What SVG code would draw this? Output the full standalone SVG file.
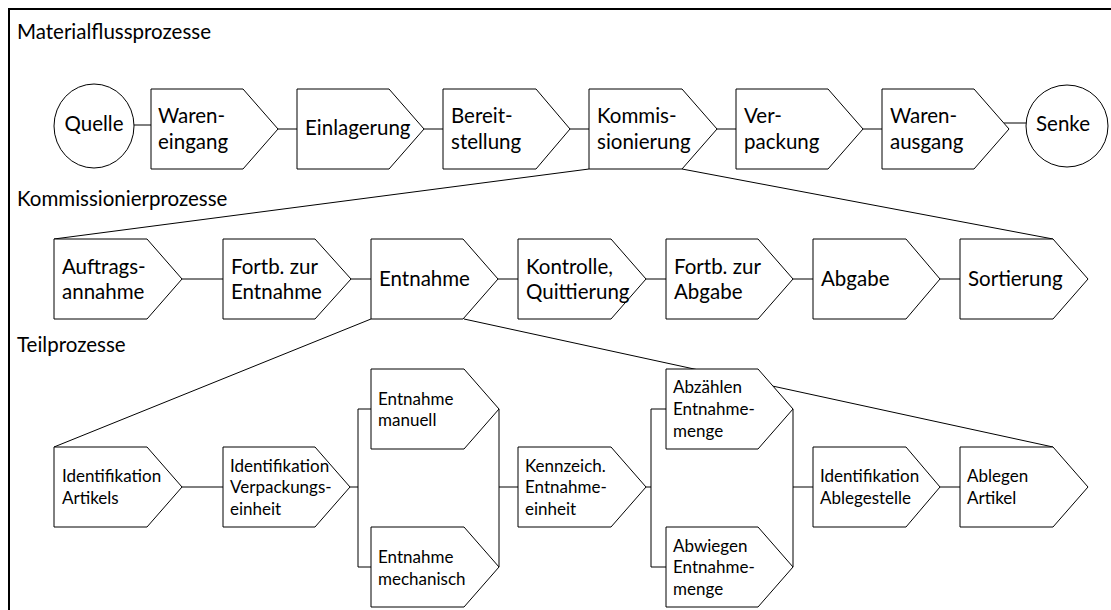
<svg xmlns="http://www.w3.org/2000/svg" width="1111" height="610" viewBox="0 0 1111 610">
  <style>
    .frame { fill: none; stroke: #000; stroke-width: 2; }
    .node { fill: #fff; stroke: #000; stroke-width: 1; }
    .conn { fill: none; stroke: #000; stroke-width: 1; }
    text { font-family: Lato, "Liberation Sans", sans-serif; fill: #000; }
    .lg { font-size: 20.5px; }
    .sm { font-size: 17px; }
    .mid { text-anchor: middle; }
  </style>

  <rect x="0" y="0" width="1111" height="610" fill="#fff"/>
  <rect class="frame" x="9" y="9" width="1120" height="620"/>

  <!-- section headings -->
  <g id="headings">
    <text class="lg" x="17" y="39">Materialflussprozesse</text>
    <text class="lg" x="17" y="206">Kommissionierprozesse</text>
    <text class="lg" x="17" y="352">Teilprozesse</text>
  </g>

  <!-- connectors (drawn first so boxes sit on top) -->
  <g id="connectors" class="conn">
    <!-- top row -->
    <line x1="134" y1="125" x2="151" y2="125"/>
    <line x1="278" y1="129" x2="297" y2="129"/>
    <line x1="424" y1="129" x2="443" y2="129"/>
    <line x1="570" y1="129" x2="589" y2="129"/>
    <line x1="717" y1="129" x2="736" y2="129"/>
    <line x1="863" y1="129" x2="882" y2="129"/>
    <line x1="1004" y1="123" x2="1027" y2="123"/>
    <!-- zoom from Kommissionierung into its sub-processes -->
    <line x1="589" y1="169" x2="54" y2="239"/>
    <line x1="682" y1="169" x2="1053" y2="239"/>
    <!-- middle row -->
    <line x1="182" y1="279" x2="223" y2="279"/>
    <line x1="351" y1="279" x2="371" y2="279"/>
    <line x1="498" y1="279" x2="518" y2="279"/>
    <line x1="646" y1="279" x2="666" y2="279"/>
    <line x1="793" y1="279" x2="813" y2="279"/>
    <line x1="940" y1="279" x2="960" y2="279"/>
    <!-- zoom from Entnahme into its sub-processes -->
    <line x1="371" y1="319" x2="54" y2="447"/>
    <line x1="464" y1="319" x2="1053" y2="447"/>
    <!-- bottom row -->
    <line x1="182" y1="487" x2="223" y2="487"/>
    <polyline points="350,487 358,487"/>
    <polyline points="371,409 358,409 358,567 371,567"/>
    <line x1="499" y1="409" x2="499" y2="567"/>
    <line x1="499" y1="487" x2="518" y2="487"/>
    <line x1="646" y1="487" x2="651" y2="487"/>
    <polyline points="666,409 651,409 651,567 666,567"/>
    <line x1="793" y1="409" x2="793" y2="567"/>
    <line x1="793" y1="487" x2="813" y2="487"/>
    <line x1="940" y1="487" x2="960" y2="487"/>
  </g>

  <!-- top row: material flow -->
  <g id="quelle">
    <ellipse class="node" cx="94" cy="126" rx="40" ry="42"/>
    <text class="lg mid" x="94" y="131">Quelle</text>
  </g>
  <g id="wareneingang">
    <path class="node" d="M151,89 H243 L278,129 L243,169 H151 Z"/>
    <text class="lg" x="158" y="123">Waren-</text>
    <text class="lg" x="158" y="149">eingang</text>
  </g>
  <g id="einlagerung">
    <path class="node" d="M297,89 H389 L424,129 L389,169 H297 Z"/>
    <text class="lg" x="305" y="135">Einlagerung</text>
  </g>
  <g id="bereitstellung">
    <path class="node" d="M443,89 H536 L570,129 L536,169 H443 Z"/>
    <text class="lg" x="451" y="123">Bereit-</text>
    <text class="lg" x="451" y="149">stellung</text>
  </g>
  <g id="kommissionierung">
    <path class="node" d="M589,89 H682 L717,129 L682,169 H589 Z"/>
    <text class="lg" x="597" y="123">Kommis-</text>
    <text class="lg" x="597" y="149">sionierung</text>
  </g>
  <g id="verpackung">
    <path class="node" d="M736,89 H828 L863,129 L828,169 H736 Z"/>
    <text class="lg" x="744" y="123">Ver-</text>
    <text class="lg" x="744" y="149">packung</text>
  </g>
  <g id="warenausgang">
    <path class="node" d="M882,89 H974 L1009,129 L974,169 H882 Z"/>
    <text class="lg" x="890" y="123">Waren-</text>
    <text class="lg" x="890" y="149">ausgang</text>
  </g>
  <g id="senke">
    <circle class="node" cx="1067" cy="126" r="41"/>
    <text class="lg mid" x="1063" y="131">Senke</text>
  </g>

  <!-- middle row: order picking -->
  <g id="auftragsannahme">
    <path class="node" d="M54,239 H147 L182,279 L147,319 H54 Z"/>
    <text class="lg" x="62" y="274">Auftrags-</text>
    <text class="lg" x="62" y="299">annahme</text>
  </g>
  <g id="fortb-entnahme">
    <path class="node" d="M223,239 H315 L351,279 L315,319 H223 Z"/>
    <text class="lg" x="231" y="274">Fortb. zur</text>
    <text class="lg" x="231" y="299">Entnahme</text>
  </g>
  <g id="entnahme">
    <path class="node" d="M371,239 H463 L498,279 L463,319 H371 Z"/>
    <text class="lg" x="379" y="286">Entnahme</text>
  </g>
  <g id="kontrolle">
    <path class="node" d="M518,239 H611 L646,279 L611,319 H518 Z"/>
    <text class="lg" x="526" y="274">Kontrolle,</text>
    <text class="lg" x="526" y="299">Quittierung</text>
  </g>
  <g id="fortb-abgabe">
    <path class="node" d="M666,239 H758 L793,279 L758,319 H666 Z"/>
    <text class="lg" x="674" y="274">Fortb. zur</text>
    <text class="lg" x="674" y="299">Abgabe</text>
  </g>
  <g id="abgabe">
    <path class="node" d="M813,239 H906 L940,279 L906,319 H813 Z"/>
    <text class="lg" x="821" y="286">Abgabe</text>
  </g>
  <g id="sortierung">
    <path class="node" d="M960,239 H1053 L1088,279 L1053,319 H960 Z"/>
    <text class="lg" x="968" y="286">Sortierung</text>
  </g>

  <!-- bottom row: sub-processes of Entnahme -->
  <g id="ident-artikel">
    <path class="node" d="M54,447 H147 L182,487 L147,527 H54 Z"/>
    <text class="sm" x="62" y="482">Identifikation</text>
    <text class="sm" x="62" y="504">Artikels</text>
  </g>
  <g id="ident-ve">
    <path class="node" d="M223,447 H315 L350,487 L315,527 H223 Z"/>
    <text class="sm" x="230" y="472">Identifikation</text>
    <text class="sm" x="230" y="493">Verpackungs-</text>
    <text class="sm" x="230" y="515">einheit</text>
  </g>
  <g id="entnahme-manuell">
    <path class="node" d="M371,369 H464 L499,409 L464,449 H371 Z"/>
    <text class="sm" x="378" y="405">Entnahme</text>
    <text class="sm" x="378" y="426">manuell</text>
  </g>
  <g id="entnahme-mechanisch">
    <path class="node" d="M371,527 H464 L499,567 L464,607 H371 Z"/>
    <text class="sm" x="378" y="563">Entnahme</text>
    <text class="sm" x="378" y="585">mechanisch</text>
  </g>
  <g id="kennzeichnung">
    <path class="node" d="M518,447 H611 L646,487 L611,527 H518 Z"/>
    <text class="sm" x="525" y="472">Kennzeich.</text>
    <text class="sm" x="525" y="493">Entnahme-</text>
    <text class="sm" x="525" y="515">einheit</text>
  </g>
  <g id="abzaehlen">
    <path class="node" d="M666,369 H758 L793,409 L758,449 H666 Z"/>
    <text class="sm" x="673" y="393">Abzählen</text>
    <text class="sm" x="673" y="415">Entnahme-</text>
    <text class="sm" x="673" y="437">menge</text>
  </g>
  <g id="abwiegen">
    <path class="node" d="M666,527 H758 L793,567 L758,607 H666 Z"/>
    <text class="sm" x="673" y="552">Abwiegen</text>
    <text class="sm" x="673" y="573">Entnahme-</text>
    <text class="sm" x="673" y="595">menge</text>
  </g>
  <g id="ident-ablage">
    <path class="node" d="M813,447 H906 L940,487 L906,527 H813 Z"/>
    <text class="sm" x="820" y="482">Identifikation</text>
    <text class="sm" x="820" y="504">Ablegestelle</text>
  </g>
  <g id="ablegen">
    <path class="node" d="M960,447 H1053 L1088,487 L1053,527 H960 Z"/>
    <text class="sm" x="967" y="482">Ablegen</text>
    <text class="sm" x="967" y="504">Artikel</text>
  </g>
</svg>
